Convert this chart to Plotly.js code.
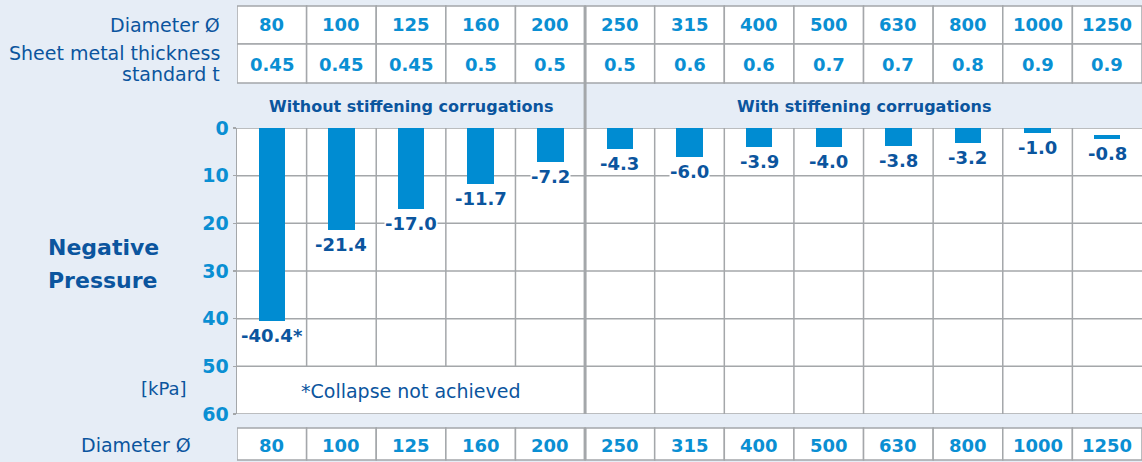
<!DOCTYPE html>
<html>
<head>
<meta charset="utf-8">
<script src="https://cdn.plot.ly/plotly-3.0.1.min.js"></script>
<style>html,body{margin:0;padding:0;background:#e6edf6;}#chart{width:1142px;height:462px;}</style>
</head>
<body>
<div id="chart"></div>
<script>
// ---- data ----
const diameters = ['80','100','125','160','200','250','315','400','500','630','800','1000','1250'];
const thickness = ['0.45','0.45','0.45','0.5','0.5','0.5','0.6','0.6','0.7','0.7','0.8','0.9','0.9'];
const pressure = [-40.4,-21.4,-17.0,-11.7,-7.2,-4.3,-6.0,-3.9,-4.0,-3.8,-3.2,-1.0,-0.8];
const pressureLabels = ['-40.4*','-21.4','-17.0','-11.7','-7.2','-4.3','-6.0','-3.9','-4.0','-3.8','-3.2','-1.0','-0.8'];
const barBase = [0,0,0,0,0,0,0,0,0,0,0,0,1.5];
const groups = ['Without stiffening corrugations','With stiffening corrugations'];
const yTicks = [0,10,20,30,40,50,60];

// ---- style ----
const FONT = 'DejaVu Sans';
const DARK = '#0b559e';
const LIGHT = '#0a8fd3';
const BAR = '#008cd2';
const GRID = '#a4a7aa';
const BG = '#e6edf6';
const L = 237, T = 128, B = 48, W = 1142, H = 462;
const plotW = W - L, plotH = H - T - B;
const PX = px => (px - L) / plotW;
const PY = py => (H - B - py) / plotH;

const idx = diameters.map((d, i) => i);
const n = diameters.length;

const trace = {
  type: 'bar',
  x: idx,
  y: pressure.map(v => -v),
  base: barBase,
  width: 0.38,
  marker: {color: BAR},
  hoverinfo: 'skip'
};

const shapes = [];
// grid horizontal
yTicks.forEach(v => shapes.push({type:'line', xref:'x', yref:'y', x0:-0.5, x1:n-0.5, y0:v, y1:v, line:{color:GRID, width:1.5}, layer:'below'}));
// grid vertical
for (let i = 0; i < n - 1; i++) {
  if (i === 4) continue;
  const yEnd = i < 4 ? 50 : 60;
  shapes.push({type:'line', xref:'x', yref:'y', x0:i+0.5, x1:i+0.5, y0:0, y1:yEnd, line:{color:GRID, width:1.5}, layer:'below'});
}
// top table and bottom row cells
const rows = [[PY(6), PY(44)], [PY(44), PY(83)], [PY(428), PY(460)]];
rows.forEach(r => {
  for (let i = 0; i < n; i++) {
    shapes.push({type:'rect', xref:'x', yref:'paper', x0:i-0.5, x1:i+0.5, y0:r[1], y1:r[0], fillcolor:'#ffffff', line:{color:GRID, width:1.5}, layer:'below'});
  }
});
// thick separator
shapes.push({type:'line', xref:'x', yref:'paper', x0:4.5, x1:4.5, y0:PY(6), y1:0, line:{color:GRID, width:3}});
shapes.push({type:'line', xref:'x', yref:'paper', x0:4.5, x1:4.5, y0:PY(428), y1:PY(460), line:{color:GRID, width:3}});

const annotations = [];
const ann = (o) => annotations.push(Object.assign({showarrow:false, xanchor:'center', yanchor:'middle'}, o));

// left labels
ann({xref:'paper', yref:'paper', x:PX(222), y:PY(25), xanchor:'right', align:'right', text:'Diameter Ø', font:{family:FONT, size:19, color:DARK}});
ann({xref:'paper', yref:'paper', x:PX(222), y:PY(53), xanchor:'right', align:'right', text:'Sheet metal thickness', font:{family:FONT, size:19, color:DARK}});
ann({xref:'paper', yref:'paper', x:PX(222), y:PY(74), xanchor:'right', align:'right', text:'standard t', font:{family:FONT, size:19, color:DARK}});
ann({xref:'paper', yref:'paper', x:PX(46), y:PY(247), xanchor:'left', align:'left', text:'<b>Negative</b>', font:{family:FONT, size:22, color:DARK}});
ann({xref:'paper', yref:'paper', x:PX(46), y:PY(280), xanchor:'left', align:'left', text:'<b>Pressure</b>', font:{family:FONT, size:22, color:DARK}});
ann({xref:'paper', yref:'paper', x:PX(189), y:PY(388), xanchor:'right', align:'right', text:'[kPa]', font:{family:FONT, size:18, color:DARK}});
ann({xref:'paper', yref:'paper', x:PX(193), y:PY(445), xanchor:'right', align:'right', text:'Diameter Ø', font:{family:FONT, size:19, color:DARK}});

// table values
diameters.forEach((d, i) => {
  ann({xref:'x', yref:'paper', x:i, y:PY(25), text:'<b>'+d+'</b>', font:{family:FONT, size:18, color:LIGHT}});
  ann({xref:'x', yref:'paper', x:i, y:PY(445), text:'<b>'+d+'</b>', font:{family:FONT, size:18, color:LIGHT}});
});
thickness.forEach((t, i) => {
  ann({xref:'x', yref:'paper', x:i, y:PY(64), text:'<b>'+t+'</b>', font:{family:FONT, size:18, color:LIGHT}});
});
// group headers
ann({xref:'x', yref:'paper', x:2, y:PY(106), text:'<b>'+groups[0]+'</b>', font:{family:FONT, size:16, color:DARK}});
ann({xref:'x', yref:'paper', x:8.5, y:PY(106), text:'<b>'+groups[1]+'</b>', font:{family:FONT, size:16, color:DARK}});
// note
ann({xref:'x', yref:'y', x:2, y:55, yshift:-1, text:'*Collapse not achieved', font:{family:FONT, size:19, color:DARK}});

// bar labels
pressure.forEach((v, i) => {
  ann({xref:'x', yref:'y', x:i, y:barBase[i] - v, yanchor:'top', yshift:-3, borderpad:0,
       bgcolor:'#ffffff', text:'<b>'+pressureLabels[i]+'</b>', font:{family:FONT, size:18, color:DARK}});
});

const layout = {
  width: W, height: H,
  margin: {l:L, r:0, t:T, b:B, pad:0},
  paper_bgcolor: BG,
  plot_bgcolor: '#ffffff',
  showlegend: false,
  bargap: 0,
  xaxis: {range:[-0.5, n-0.5], showgrid:false, zeroline:false, showticklabels:false, ticks:'', fixedrange:true},
  yaxis: {range:[60, 0], tickvals:yTicks, ticktext:yTicks.map(String), showgrid:false, zeroline:false,
          showline:true, linecolor:GRID, linewidth:1.5, ticks:'outside', ticklen:3, tickcolor:GRID, tickwidth:1.5,
          tickfont:{family:FONT, size:19, color:LIGHT, weight:'bold'}, fixedrange:true},
  shapes: shapes,
  annotations: annotations
};

Plotly.newPlot('chart', [trace], layout, {displayModeBar:false, staticPlot:true});
</script>
</body>
</html>
